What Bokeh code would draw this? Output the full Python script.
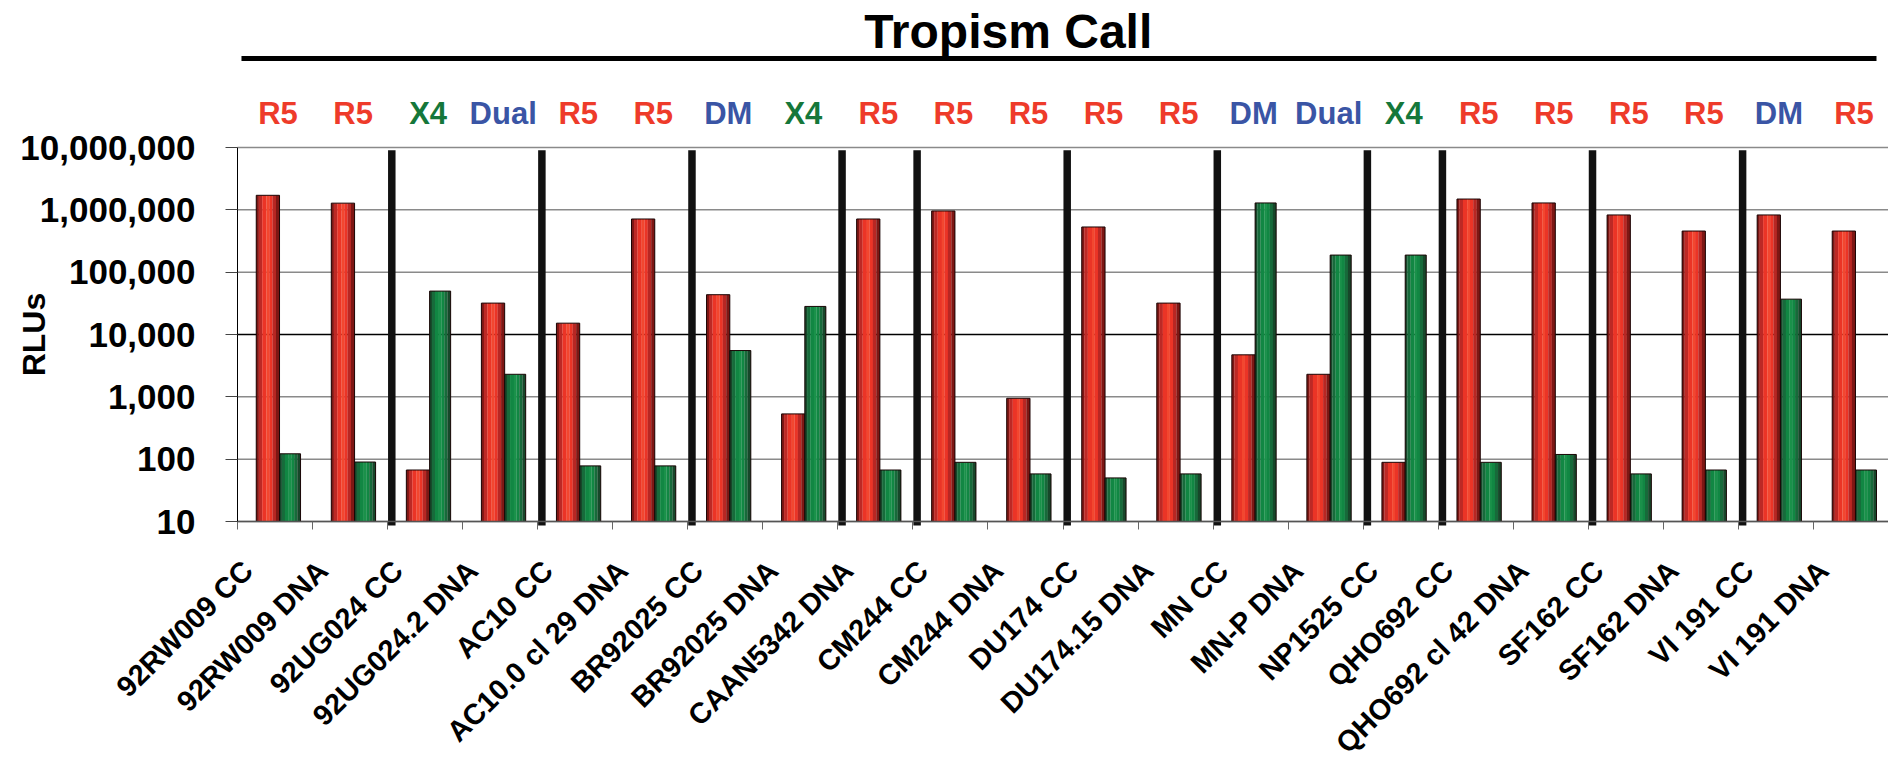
import math
import numpy as np
from bokeh.plotting import figure
from bokeh.models import Range1d, FixedTicker
from bokeh.core.properties import value
from bokeh.embed import file_html
from bokeh.resources import INLINE

# ---------------- data ----------------
samples = ["92RW009 CC", "92RW009 DNA", "92UG024 CC", "92UG024.2 DNA", "AC10 CC",
           "AC10.0 cl 29 DNA", "BR92025 CC", "BR92025 DNA", "CAAN5342 DNA", "CM244 CC",
           "CM244 DNA", "DU174 CC", "DU174.15 DNA", "MN CC", "MN-P DNA", "NP1525 CC",
           "QHO692 CC", "QHO692 cl 42 DNA", "SF162 CC", "SF162 DNA", "VI 191 CC", "VI 191 DNA"]
tropism = ["R5", "R5", "X4", "Dual", "R5", "R5", "DM", "X4", "R5", "R5", "R5",
           "R5", "R5", "DM", "Dual", "X4", "R5", "R5", "R5", "R5", "DM", "R5"]
red_rlu = [1710000, 1280000, 67, 31900, 15200, 713000, 43500, 532, 713000, 959000, 948,
           531000, 31900, 4720, 2300, 89, 1490000, 1290000, 828000, 457000, 828000, 457000]
green_rlu = [122, 90, 49700, 2300, 78, 78, 5530, 28200, 67, 89, 58,
             50, 58, 1290000, 188000, 188000, 89, 119, 58, 67, 36900, 67]
group_breaks = [2, 4, 6, 8, 9, 11, 13, 15, 16, 18, 20]
y_ticks = [10, 100, 1000, 10000, 100000, 1000000, 10000000]
y_tick_labels = ["10", "100", "1,000", "10,000", "100,000", "1,000,000", "10,000,000"]
title_text = "Tropism Call"
y_title = "RLUs"

# ---------------- layout constants (pixels) ----------------
FONT = "Liberation Sans"
W, H = 1888, 767
FRAME_L, FRAME_T, FRAME_B = 237, 147, 521          # chart area inside the canvas
N = len(samples)
idx = np.arange(N)
UNIT = (W - FRAME_L) / N                            # px per sample
DEC = (FRAME_B - FRAME_T) / 6.0                     # px per decade
Y_LO, Y_HI = y_ticks[0], y_ticks[-1]


def y_at(py):
    """value on the log scale that sits at canvas row py"""
    return 10 ** (math.log10(Y_LO) + (FRAME_B - py) / DEC)


tropism_colors = {"R5": "#EE3B2A", "X4": "#15773A", "Dual": "#3A55A5", "DM": "#3A55A5"}

RED_OFF, RED_W = 0.405, 0.31
GRN_OFF, GRN_W = 0.70, 0.28
LABEL_OFF = 0.135
red_strips = [(0.00, 0.11, "#7E1714"), (0.11, 0.26, "#BC2925"), (0.26, 0.44, "#EB3426"),
              (0.44, 0.56, "#F2472F"), (0.56, 0.70, "#EB3426"), (0.70, 0.85, "#B82723"),
              (0.85, 1.00, "#7E1714")]
grn_strips = [(0.00, 0.11, "#17472A"), (0.11, 0.26, "#176B3B"), (0.26, 0.44, "#118743"),
              (0.44, 0.56, "#1A914A"), (0.56, 0.70, "#118743"), (0.70, 0.85, "#176A3A"),
              (0.85, 1.00, "#17472A")]

# the frame covers the whole canvas; axes are pinned at x=0 / y=10
p = figure(width=W, height=H,
           x_range=Range1d(-FRAME_L / UNIT, N),
           y_range=Range1d(y_at(H), y_at(0)),
           y_axis_type="log", toolbar_location=None, output_backend="svg",
           min_border_left=0, min_border_right=0, min_border_top=0, min_border_bottom=0)
p.outline_line_color = None
p.background_fill_color = "white"
p.border_fill_color = "white"
p.xgrid.visible = False
p.ygrid.visible = False

# gridlines (10,000 line is black in the original)
p.segment(x0=[0] * len(y_ticks), x1=[N] * len(y_ticks), y0=y_ticks, y1=y_ticks,
          line_color=["black" if t == 10000 else "#8a8a8a" for t in y_ticks],
          line_width=1.5, level="underlay")

# ---- y axis ----
p.yaxis.fixed_location = 0
p.yaxis.bounds = (Y_LO, Y_HI)
p.yaxis.ticker = FixedTicker(ticks=y_ticks)
p.yaxis.major_label_overrides = dict(zip(y_ticks, y_tick_labels))
p.yaxis.major_label_text_font = FONT
p.yaxis.major_label_text_font_style = "bold"
p.yaxis.major_label_text_font_size = "35px"
p.yaxis.major_label_text_color = "black"
p.yaxis.major_label_standoff = 30
p.yaxis.major_tick_out = 12
p.yaxis.major_tick_in = 0
p.yaxis.major_tick_line_color = "#444444"
p.yaxis.minor_tick_line_color = None
p.yaxis.axis_line_color = "black"
p.yaxis.axis_label = y_title
p.yaxis.axis_label_text_font = FONT
p.yaxis.axis_label_text_font_style = "bold"
p.yaxis.axis_label_text_font_size = "32px"
p.yaxis.axis_label_text_color = "black"
p.yaxis.axis_label_standoff = -35

# ---- x axis: boundary ticks + rotated sample names ----
label_pos = [round(i + LABEL_OFF, 3) for i in range(N)]
p.xaxis.fixed_location = Y_LO
p.xaxis.bounds = (0, N)
p.xaxis.ticker = FixedTicker(ticks=label_pos, minor_ticks=list(range(N + 1)))
p.xaxis.major_label_overrides = dict(zip(label_pos, samples))
p.xaxis.major_label_orientation = math.pi / 4
p.xaxis.major_label_standoff = 36
p.xaxis.major_label_text_font = FONT
p.xaxis.major_label_text_font_style = "bold"
p.xaxis.major_label_text_font_size = "29px"
p.xaxis.major_label_text_color = "black"
p.xaxis.major_tick_line_color = None
p.xaxis.major_tick_out = 0
p.xaxis.major_tick_in = 0
p.xaxis.minor_tick_out = 8
p.xaxis.minor_tick_in = 0
p.xaxis.minor_tick_line_color = "#666666"
p.xaxis.axis_line_color = "#555555"
p.xaxis.axis_line_width = 1.5

# ---- bars with cylinder-like shading ----
for off, w, vals, strips in [(RED_OFF, RED_W, red_rlu, red_strips),
                             (GRN_OFF, GRN_W, green_rlu, grn_strips)]:
    xc = idx + off
    for a, b, col in strips:
        p.vbar(x=xc - w / 2 + w * (a + b) / 2, width=w * (b - a) + 0.002, top=vals,
               bottom=Y_LO, fill_color=col, line_color=None)
    p.vbar(x=xc, width=w, top=vals, bottom=Y_LO, fill_color=None, line_color="#1a0606",
           line_width=1)

# ---- thick black separators between sample groups ----
sep_x = [b + 0.056 for b in group_breaks]
p.segment(x0=sep_x, y0=[y_at(FRAME_B + 4)] * len(sep_x), x1=sep_x,
          y1=[9.0e6] * len(sep_x), line_width=7.5, line_color="#111111", line_cap="butt")

# ---- title, rule and tropism calls ----
p.text(x=[10.27], y=[y_at(31)], text=[title_text], text_font=value(FONT),
       text_font_style="bold", text_font_size="48px", text_align="center",
       text_baseline="middle", text_color="black")
p.segment(x0=[0.053], y0=[y_at(58)], x1=[21.84], y1=[y_at(58)], line_width=5,
          line_color="black", line_cap="butt")
p.text(x=idx + 0.54, y=[y_at(112.5)] * N, text=tropism, text_font=value(FONT),
       text_font_style="bold", text_font_size="31px", text_align="center",
       text_baseline="middle", text_color=[tropism_colors[t] for t in tropism])

open("out.html", "w").write(file_html(p, INLINE))
